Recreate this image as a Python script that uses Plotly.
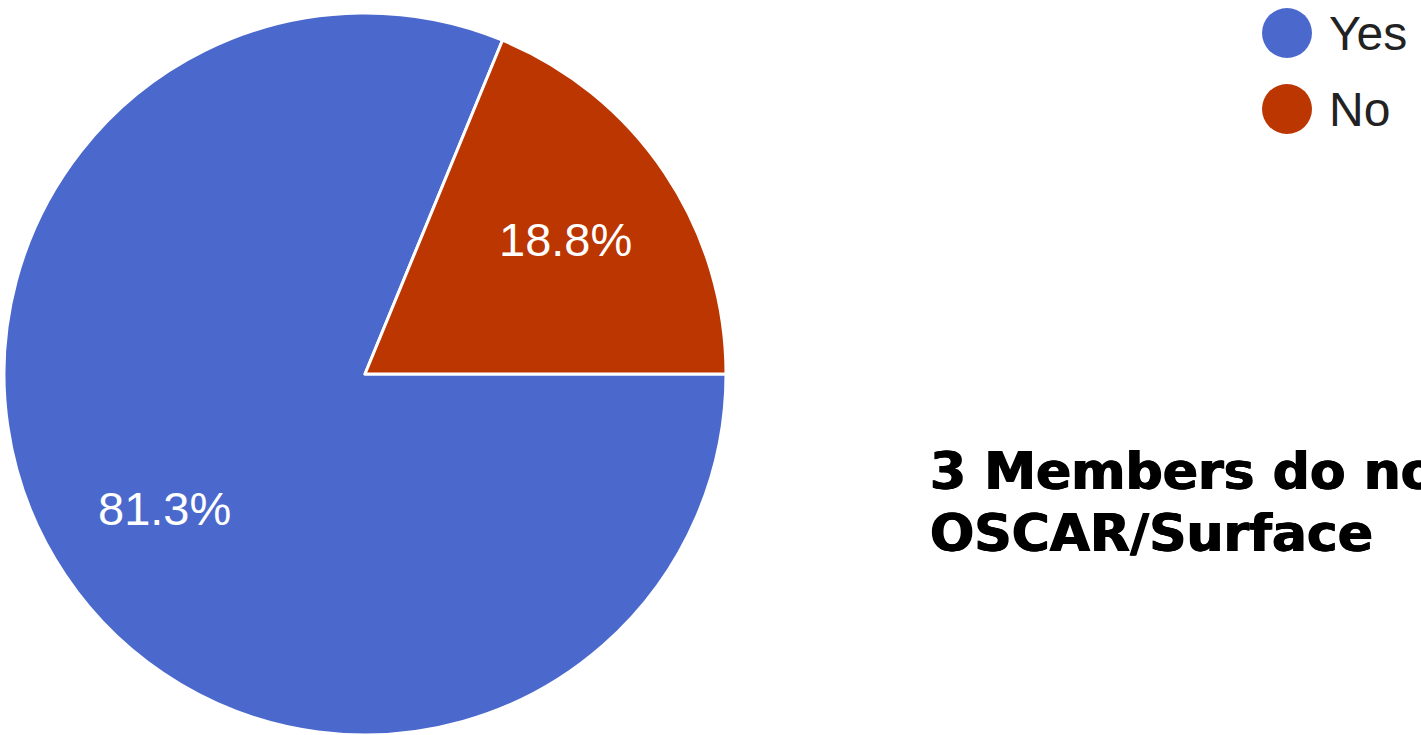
import math
import plotly.graph_objects as go

# Survey answers (share of respondents, %)
categories = ["Yes", "No"]
shares = [81.3, 18.8]
colors = ["#4B69CC", "#BB3600"]
title_lines = ["3 Members do not use", "OSCAR/Surface"]

W, H = 1421, 735
# pie placement in pixels: centre and radius
PIE_CX, PIE_CY, PIE_R = 365, 374, 361
SANS = "Liberation Sans, Arial, Helvetica, sans-serif"

fig = go.Figure()
fig.add_trace(go.Pie(
    labels=categories,
    values=shares,
    sort=False,
    direction="clockwise",
    rotation=90,
    marker=dict(colors=colors, line=dict(color="white", width=3)),
    textinfo="none",
    domain=dict(x=[(PIE_CX - PIE_R) / W, (PIE_CX + PIE_R) / W],
                y=[1 - (PIE_CY + PIE_R) / H, 1 - (PIE_CY - PIE_R) / H]),
    showlegend=False,
    hoverinfo="label+percent",
))

shapes = []
annotations = []

# Percentage labels placed at each slice's mid-angle, two thirds of the way out
total = sum(shares)
start = 0.0  # degrees, measured counter-clockwise from 3 o'clock; slices run clockwise
for v in shares:
    sweep = v / total * 360
    mid = math.radians(start - sweep / 2)
    start -= sweep
    px = PIE_CX + 0.67 * PIE_R * math.cos(mid)
    py = PIE_CY - 0.67 * PIE_R * math.sin(mid)
    annotations.append(dict(
        text=f"{v:.1f}%", xref="paper", yref="paper",
        x=px / W, y=1 - py / H, xanchor="center", yanchor="middle",
        showarrow=False,
        font=dict(family=SANS, size=47, color="white"),
    ))

# Legend: a filled circle and a label per category
for i, (name, col) in enumerate(zip(categories, colors)):
    cy = 33 + i * 76
    shapes.append(dict(
        type="circle", xref="paper", yref="paper",
        x0=(1287 - 25) / W, x1=(1287 + 25) / W,
        y0=1 - (cy + 25) / H, y1=1 - (cy - 25) / H,
        fillcolor=col, line=dict(width=0),
    ))
    annotations.append(dict(
        text=name, xref="paper", yref="paper",
        x=1327 / W, y=1 - (cy + 1) / H, xanchor="left", yanchor="middle",
        showarrow=False,
        font=dict(family=SANS, size=48, color="#222222"),
    ))

# Heavy two-line caption on the right
for i, line in enumerate(title_lines):
    annotations.append(dict(
        text=line, xref="paper", yref="paper",
        x=928 / W, y=1 - (439 + i * 62) / H, xanchor="left", yanchor="top",
        showarrow=False,
        font=dict(family="DejaVu Sans", size=52, color="black", weight="bold",
                  shadow="0.7px 0 0 black, -0.7px 0 0 black"),
    ))

fig.update_layout(
    width=W, height=H,
    margin=dict(l=0, r=0, t=0, b=0),
    paper_bgcolor="white", plot_bgcolor="white",
    shapes=shapes, annotations=annotations,
)

fig.write_html("out.html")
